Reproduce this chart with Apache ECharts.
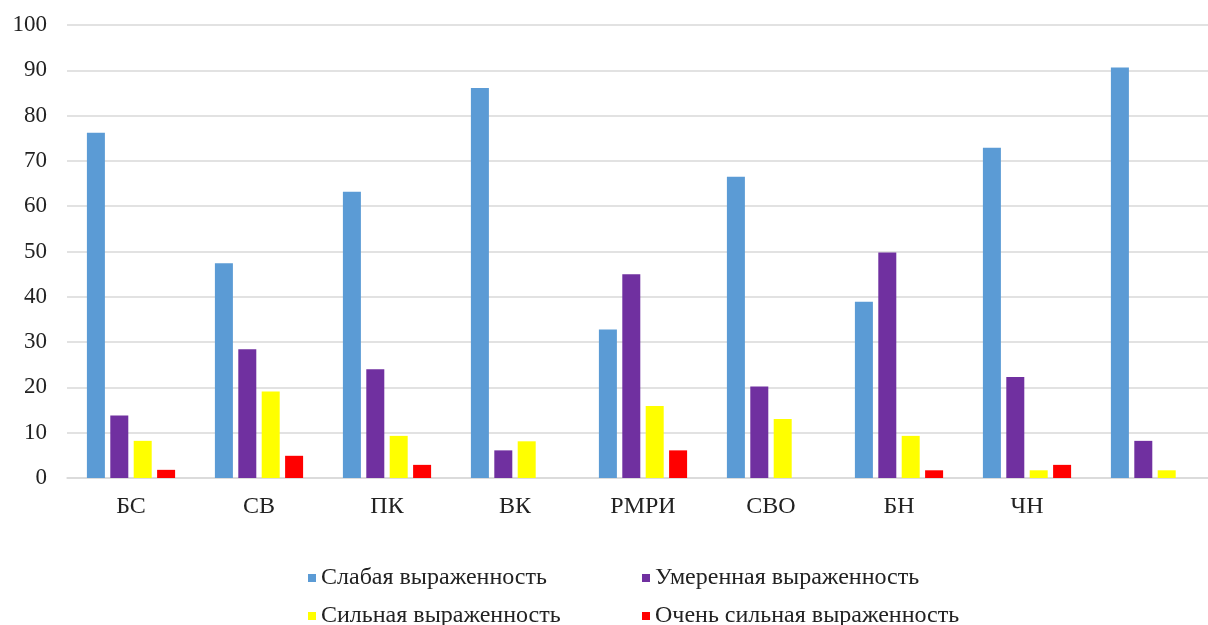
<!DOCTYPE html>
<html>
<head>
<meta charset="utf-8">
<script src="https://cdn.jsdelivr.net/npm/echarts@6/dist/echarts.min.js"></script>
<style>
  html, body { margin: 0; padding: 0; background: #fff; overflow: hidden; }
  #main { width: 1219px; height: 625px; }
</style>
</head>
<body>
<div id="main"></div>
<script>
    // данные диаграммы
    var categories = ['БС', 'СВ', 'ПК', 'ВК', 'РМРИ', 'СВО', 'БН', 'ЧН', '']
    var seriesNames = ['Слабая выраженность', 'Умеренная выраженность', 'Сильная выраженность', 'Очень сильная выраженность']
    var weak = [76.2, 47.4, 63.2, 86.1, 32.8, 66.5, 38.9, 72.9, 90.6]
    var moderate = [13.8, 28.4, 24.0, 6.1, 45.0, 20.2, 49.8, 22.3, 8.2]
    var strong = [8.2, 19.1, 9.3, 8.1, 15.9, 13.0, 9.3, 1.7, 1.7]
    var veryStrong = [1.8, 4.9, 2.9, 0, 6.1, 0, 1.7, 2.9, 0]
    var colors = ['#5B9BD5', '#7030A0', '#FFFF00', '#FF0000']

    var myChart = echarts.init(document.getElementById('main'))

    var font = 'Liberation Serif, Times New Roman, serif'

    // каждая подпись легенды отдельно, чтобы поставить её точно
    function legendAt(name, left, top) {
        return {
            data: [name],
            left: left,
            top: top,
            icon: 'rect',
            itemWidth: 8,
            itemHeight: 8,
            itemGap: 0,
            textStyle: { fontFamily: font, fontSize: 24, color: '#222' }
        }
    }

    var option = {
        animation: false,
        color: colors,
        grid: { left: 67, right: 0, top: 25, bottom: 147 },
        legend: [
            legendAt(seriesNames[0], 303, 561),
            legendAt(seriesNames[1], 637, 561),
            legendAt(seriesNames[2], 303, 599),
            legendAt(seriesNames[3], 637, 599)
        ],
        xAxis: {
            type: 'category',
            data: categories,
            axisTick: { show: false },
            axisLine: { lineStyle: { color: '#d9d9d9', width: 1.5 } },
            axisLabel: { fontFamily: font, fontSize: 24, color: '#222', margin: 17 }
        },
        yAxis: {
            type: 'value',
            min: 0,
            max: 100,
            interval: 10,
            axisLine: { show: false },
            axisTick: { show: false },
            splitLine: { lineStyle: { color: '#d9d9d9', width: 1.5 } },
            axisLabel: { fontFamily: font, fontSize: 23, color: '#222', margin: 20 }
        },
        series: [
            { name: seriesNames[0], type: 'bar', data: weak, barWidth: 18, barGap: '30%' },
            { name: seriesNames[1], type: 'bar', data: moderate, barWidth: 18, barGap: '30%' },
            { name: seriesNames[2], type: 'bar', data: strong, barWidth: 18, barGap: '30%' },
            { name: seriesNames[3], type: 'bar', data: veryStrong, barWidth: 18, barGap: '30%' }
        ]
    }

    myChart.setOption(option)
</script>
</body>
</html>
